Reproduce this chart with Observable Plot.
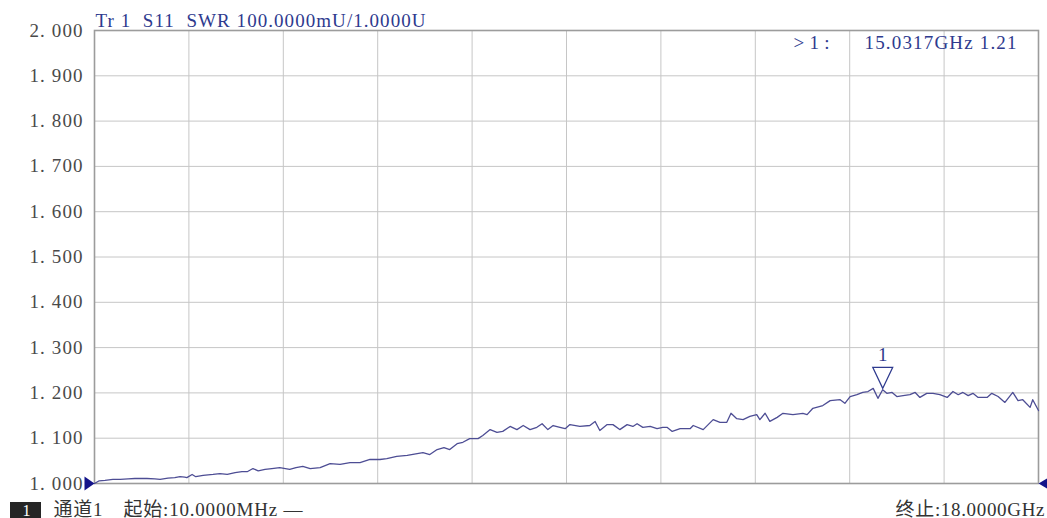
<!DOCTYPE html>
<html><head><meta charset="utf-8">
<script src="https://cdn.jsdelivr.net/npm/d3@7"></script>
<script src="https://cdn.jsdelivr.net/npm/@observablehq/plot@0.6"></script>
<style>
html,body{margin:0;padding:0;background:#fff;}
#chart svg{display:block;}
svg text{white-space:pre;}
</style></head><body><div id="chart"></div>
<script>
// Sweep points (frequency in GHz, SWR)
const freqGHz = [0.01,0.10,0.21,0.36,0.50,0.65,0.78,1.01,1.16,1.26,
1.41,1.54,1.64,1.73,1.77,1.87,1.94,2.08,2.27,2.40,
2.54,2.69,2.82,2.92,3.03,3.13,3.26,3.39,3.54,3.73,
3.85,3.98,4.12,4.31,4.50,4.69,4.88,5.07,5.26,5.45,
5.58,5.77,5.97,6.16,6.27,6.40,6.54,6.67,6.78,6.92,
7.03,7.16,7.32,7.41,7.55,7.68,7.79,7.93,8.06,8.18,
8.31,8.44,8.54,8.65,8.75,8.88,8.98,9.07,9.26,9.45,
9.55,9.64,9.78,9.89,10.02,10.16,10.27,10.35,10.46,10.60,
10.73,10.84,10.92,11.02,11.17,11.36,11.42,11.61,11.80,11.93,
12.06,12.14,12.25,12.37,12.50,12.63,12.69,12.79,12.88,13.02,
13.13,13.32,13.51,13.59,13.70,13.89,14.03,14.22,14.31,14.41,
14.54,14.65,14.75,14.85,14.94,15.03,15.11,15.21,15.30,15.42,
15.55,15.65,15.74,15.87,15.99,16.12,16.26,16.37,16.47,16.56,
16.66,16.75,16.85,17.02,17.11,17.23,17.36,17.51,17.61,17.70,
17.84,17.89,18.00];
const swr = [1.000,1.006,1.007,1.009,1.009,1.010,1.011,1.011,1.010,1.009,
1.012,1.013,1.015,1.014,1.013,1.020,1.015,1.018,1.020,1.022,
1.020,1.024,1.026,1.026,1.033,1.028,1.031,1.033,1.035,1.031,
1.035,1.038,1.033,1.035,1.044,1.042,1.046,1.046,1.053,1.053,
1.055,1.060,1.062,1.066,1.068,1.064,1.075,1.079,1.075,1.088,
1.091,1.099,1.099,1.106,1.119,1.113,1.115,1.126,1.119,1.128,
1.119,1.124,1.132,1.119,1.128,1.124,1.121,1.130,1.126,1.128,
1.137,1.117,1.130,1.130,1.119,1.130,1.126,1.132,1.124,1.126,
1.121,1.124,1.124,1.115,1.121,1.121,1.128,1.119,1.141,1.135,
1.135,1.155,1.143,1.141,1.148,1.152,1.141,1.155,1.137,1.146,
1.155,1.152,1.155,1.152,1.166,1.172,1.183,1.185,1.177,1.192,
1.196,1.201,1.203,1.210,1.188,1.207,1.199,1.201,1.192,1.194,
1.196,1.201,1.190,1.199,1.199,1.196,1.190,1.203,1.196,1.201,
1.194,1.199,1.190,1.190,1.199,1.192,1.179,1.201,1.183,1.185,
1.168,1.185,1.161];

const yTicks = [1.0,1.1,1.2,1.3,1.4,1.5,1.6,1.7,1.8,1.9,2.0];
const xDivisions = [0.01,1.809,3.608,5.407,7.206,9.005,10.804,12.603,14.402,16.201,18.0];
const xDomain = [0.01, 18.0];
const yDomain = [1.0, 2.0];

const headerText = "Tr 1  S11  SWR 100.0000mU/1.0000U";
const markerLabel = "1";
const markerFreq = 15.0317;
const markerSWR = 1.21;
const readoutPrefix = ">1:";
const readoutText = "15.0317GHz 1.21";
const channelBox = " 1 ";
const channelName = "通道1";
const startText = "起始:10.0000MHz —";
const stopText = "终止:18.0000GHz";

const data = freqGHz.map((f, i) => ({f, v: swr[i]}));
const FONT = "'Liberation Serif','Noto Sans CJK SC',serif";
const NAVY = "#2e3a8e";
const FS = 19;

const markerSym = {draw(ctx, size) { const r = Math.sqrt(size / Math.PI);
  ctx.moveTo(0, 0); ctx.lineTo(-r, -2.1 * r); ctx.lineTo(r, -2.1 * r); ctx.closePath(); }};
const leftSym = {draw(ctx, size) { const r = Math.sqrt(size / Math.PI);
  ctx.moveTo(0, 0); ctx.lineTo(-r, -0.7 * r); ctx.lineTo(-r, 0.7 * r); ctx.closePath(); }};
const rightSym = {draw(ctx, size) { const r = Math.sqrt(size / Math.PI);
  ctx.moveTo(0, 0); ctx.lineTo(r, -0.6 * r); ctx.lineTo(r, 0.6 * r); ctx.closePath(); }};

const plot = Plot.plot({
  width: 1047, height: 518,
  marginLeft: 94, marginRight: 9, marginTop: 30, marginBottom: 35,
  style: {fontFamily: FONT, fontSize: FS + "px", background: "#fff", overflow: "visible"},
  x: {domain: xDomain, axis: null},
  y: {domain: yDomain, axis: null},
  marks: [
    Plot.gridX(xDivisions, {stroke: "#c6c6c6", strokeOpacity: 1}),
    Plot.gridY(yTicks, {stroke: "#c6c6c6", strokeOpacity: 1}),
    Plot.frame({stroke: "#9c9c9c", strokeWidth: 1.6}),
    Plot.axisY(yTicks, {tickSize: 0, tickPadding: 12, label: null,
      tickFormat: d => d.toFixed(3).replace(".", ". "), fill: "#4a4a4a", fontSize: FS}),
    Plot.line(data, {x: "f", y: "v", stroke: "#4d4d94", strokeWidth: 1.3}),
    Plot.dot([{f: markerFreq, v: markerSWR}], {x: "f", y: "v", symbol: markerSym, r: 10,
      stroke: NAVY, fill: "none", strokeWidth: 1.2}),
    Plot.text([{f: markerFreq, v: markerSWR, t: markerLabel}], {x: "f", y: "v", text: "t",
      dy: -33, fill: NAVY, fontSize: FS}),
    Plot.dot([{f: xDomain[0], v: yDomain[0]}], {x: "f", y: "v", symbol: leftSym, r: 10,
      fill: "#14148a", stroke: "none"}),
    Plot.dot([{f: xDomain[1], v: yDomain[0]}], {x: "f", y: "v", symbol: rightSym, r: 10,
      fill: "#14148a", stroke: "none"}),
    Plot.text([headerText], {frameAnchor: "top-left", textAnchor: "start", lineAnchor: "bottom",
      dx: 1, dy: -4, fill: NAVY, fontSize: FS}),
    Plot.text([readoutPrefix], {frameAnchor: "top-right", textAnchor: "end", lineAnchor: "bottom",
      dx: -209, dy: 18, fill: NAVY, fontSize: FS}),
    Plot.text([readoutText], {frameAnchor: "top-right", textAnchor: "end", lineAnchor: "bottom",
      dx: -22, dy: 18, fill: NAVY, fontSize: FS}),
    Plot.text([channelBox], {frameAnchor: "bottom-left", textAnchor: "middle", lineAnchor: "bottom",
      dx: -68, dy: 32, fill: "#fff", fontSize: 16}),
    Plot.text([channelName], {frameAnchor: "bottom-left", textAnchor: "start", lineAnchor: "bottom",
      dx: -41, dy: 32, fill: "#333", fontSize: FS}),
    Plot.text([startText], {frameAnchor: "bottom-left", textAnchor: "start", lineAnchor: "bottom",
      dx: 29, dy: 32, fill: "#333", fontSize: FS}),
    Plot.text([stopText], {frameAnchor: "bottom-right", textAnchor: "end", lineAnchor: "bottom",
      dx: 6, dy: 32, fill: "#333", fontSize: FS})
  ]
});

const svg = d3.select(plot);
const byText = s => svg.selectAll("text").filter(function() { return this.textContent === s; });
const fit = (s, w) => byText(s).attr("textLength", w).attr("lengthAdjust", "spacing");
fit(headerText, 330);
fit(readoutPrefix, 36);
fit(readoutText, 152);
fit(channelName, 49);
fit(startText, 179);
fit(stopText, 149);
yTicks.forEach(d => fit(d.toFixed(3).replace(".", ". "), 53));
// dark badge behind the channel number (inserted beneath all marks)
svg.insert("rect", "g").attr("x", 10).attr("y", 502)
  .attr("width", 31).attr("height", 16).attr("fill", "#262626");

document.getElementById("chart").appendChild(plot);
</script></body></html>
